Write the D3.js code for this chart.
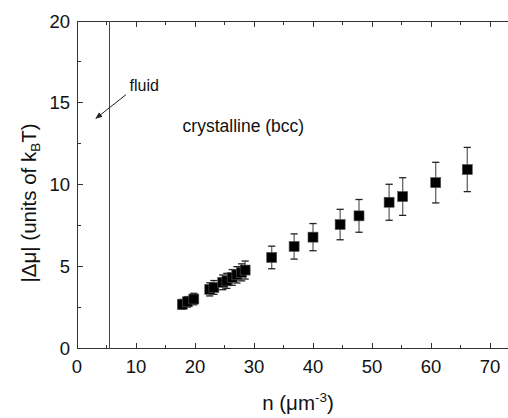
<!DOCTYPE html>
<html>
<head>
<meta charset="utf-8">
<script src="https://cdn.jsdelivr.net/npm/d3@7"></script>
<style>
  html, body { margin: 0; padding: 0; background: #fff; overflow: hidden; }
  svg { display: block; font-family: "Liberation Sans", Arial, sans-serif; }
</style>
</head>
<body>
<svg id="chart" width="508" height="418"></svg>
<script>
// density n (µm^-3), |Δµ| (kBT) and error bars
const density = [17.85, 18.7, 19.8, 22.5, 23.2, 24.7, 25.4, 26.3, 27.1, 27.9, 28.5, 33.0, 36.8, 40.0, 44.6, 47.8, 52.9, 55.2, 60.8, 66.15];
const deltaMu = [2.70, 2.85, 3.02, 3.61, 3.73, 4.04, 4.13, 4.34, 4.50, 4.65, 4.79, 5.56, 6.23, 6.80, 7.57, 8.10, 8.93, 9.28, 10.13, 10.93];
const muErr   = [0.30, 0.32, 0.35, 0.40, 0.42, 0.45, 0.46, 0.48, 0.50, 0.52, 0.55, 0.69, 0.77, 0.83, 0.93, 1.00, 1.10, 1.15, 1.24, 1.35];

const xTicks = [0, 10, 20, 30, 40, 50, 60, 70];
const xMinor = [5, 15, 25, 35, 45, 55, 65];
const yTicks = [0, 5, 10, 15, 20];
const yMinor = [2.5, 7.5, 12.5, 17.5];

const fluidBoundary = 5.55;
const arrowFrom = [8.3, 15.5], arrowTo = [3.2, 14.05];
const fluidLabel = [8.9, 15.7];
const crystalLabel = [17.9, 13.25];

const svg = d3.select('#chart');
const x = d3.scaleLinear().domain([0, 75]).range([77, 519.5]);
const y = d3.scaleLinear().domain([0, 20]).range([348.5, 21]);
const axisColor = '#333';

const defs = svg.append('defs');
defs.append('marker').attr('id', 'arrow')
    .attr('viewBox', '0 0 10 10').attr('refX', 9).attr('refY', 5)
    .attr('markerWidth', 7).attr('markerHeight', 7).attr('orient', 'auto')
    .append('path').attr('d', 'M0,1 L10,5 L0,9 Z').attr('fill', '#222');

// frame lines
const frame = svg.append('g').attr('stroke', axisColor).attr('stroke-width', 1).attr('shape-rendering', 'crispEdges');
frame.append('line').attr('x1', x(0)).attr('x2', x(75)).attr('y1', y(0)).attr('y2', y(0));
frame.append('line').attr('x1', x(0)).attr('x2', x(75)).attr('y1', y(20)).attr('y2', y(20));
frame.append('line').attr('x1', x(0)).attr('x2', x(0)).attr('y1', y(0)).attr('y2', y(20));

// ticks, inward
function xTickMarks(vals, len) {
    frame.selectAll(null).data(vals).enter().append('line')
        .attr('x1', d => x(d)).attr('x2', d => x(d)).attr('y1', y(0)).attr('y2', y(0) - len);
    frame.selectAll(null).data(vals).enter().append('line')
        .attr('x1', d => x(d)).attr('x2', d => x(d)).attr('y1', y(20)).attr('y2', y(20) + len);
}
xTickMarks(xTicks, 6);
xTickMarks(xMinor, 3.5);
frame.selectAll(null).data(yTicks).enter().append('line')
    .attr('x1', x(0)).attr('x2', x(0) + 6).attr('y1', d => y(d)).attr('y2', d => y(d));
frame.selectAll(null).data(yMinor).enter().append('line')
    .attr('x1', x(0)).attr('x2', x(0) + 3.5).attr('y1', d => y(d)).attr('y2', d => y(d));

// tick labels
svg.append('g').selectAll('text').data(xTicks).enter().append('text')
    .attr('x', d => x(d)).attr('y', y(0) + 24).attr('text-anchor', 'middle')
    .attr('font-size', 18.5).attr('fill', '#111').text(d => d);
svg.append('g').selectAll('text').data(yTicks).enter().append('text')
    .attr('x', x(0) - 7).attr('y', d => y(d) + 6.5).attr('text-anchor', 'end')
    .attr('font-size', 18.5).attr('fill', '#111').text(d => d);

// axis titles
const xt = svg.append('text').attr('x', 298).attr('y', 410).attr('text-anchor', 'middle')
    .attr('font-size', 20.5).attr('fill', '#111');
xt.append('tspan').text('n (μm');
xt.append('tspan').attr('baseline-shift', '55%').attr('font-size', 13.5).text('-3');
xt.append('tspan').text(')');

const yt = svg.append('text').attr('transform', 'translate(36,203) rotate(-90)')
    .attr('text-anchor', 'middle').attr('font-size', 20.5).attr('fill', '#111');
yt.append('tspan').text('|Δμ| (units of k');
yt.append('tspan').attr('baseline-shift', '-25%').attr('font-size', 13.5).text('B');
yt.append('tspan').text('T)');

// fluid / crystal boundary
svg.append('line').attr('x1', x(fluidBoundary)).attr('x2', x(fluidBoundary))
    .attr('y1', y(0)).attr('y2', y(20)).attr('stroke', '#444').attr('stroke-width', 1)
    .attr('shape-rendering', 'crispEdges');

svg.append('line').attr('x1', x(arrowFrom[0])).attr('y1', y(arrowFrom[1]))
    .attr('x2', x(arrowTo[0])).attr('y2', y(arrowTo[1]))
    .attr('stroke', '#222').attr('stroke-width', 1).attr('marker-end', 'url(#arrow)');
svg.append('text').attr('x', x(fluidLabel[0])).attr('y', y(fluidLabel[1]))
    .attr('font-size', 16).attr('fill', '#111').text('fluid');
svg.append('text').attr('x', x(crystalLabel[0])).attr('y', y(crystalLabel[1]))
    .attr('font-size', 17.5).attr('fill', '#111').text('crystalline (bcc)');

// error bars + squares
const pts = density.map((n, i) => ({ n, mu: deltaMu[i], e: muErr[i] }));
const eb = svg.append('g').attr('stroke-width', 1.3);
eb.selectAll('line.bar').data(pts).enter().append('line').attr('class', 'bar')
    .attr('x1', d => x(d.n)).attr('x2', d => x(d.n))
    .attr('y1', d => y(d.mu - d.e)).attr('y2', d => y(d.mu + d.e)).attr('stroke', '#666');
eb.selectAll('line.capt').data(pts).enter().append('line').attr('class', 'capt')
    .attr('x1', d => x(d.n) - 3.6).attr('x2', d => x(d.n) + 3.6)
    .attr('y1', d => y(d.mu + d.e)).attr('y2', d => y(d.mu + d.e)).attr('stroke', '#222');
eb.selectAll('line.capb').data(pts).enter().append('line').attr('class', 'capb')
    .attr('x1', d => x(d.n) - 3.6).attr('x2', d => x(d.n) + 3.6)
    .attr('y1', d => y(d.mu - d.e)).attr('y2', d => y(d.mu - d.e)).attr('stroke', '#222');

svg.append('g').selectAll('rect').data(pts).enter().append('rect')
    .attr('x', d => x(d.n) - 5).attr('y', d => y(d.mu) - 5)
    .attr('width', 10).attr('height', 10)
    .attr('fill', '#000').attr('stroke', '#555').attr('stroke-width', 0.6);
</script>
</body>
</html>
